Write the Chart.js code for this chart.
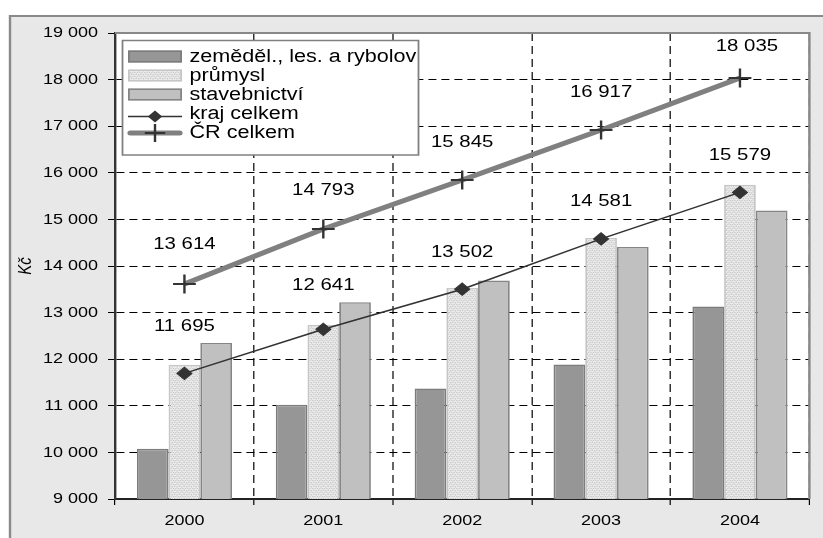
<!DOCTYPE html>
<html><head><meta charset="utf-8">
<script src="https://cdn.jsdelivr.net/npm/chart.js@4.4.1/dist/chart.umd.min.js"></script>
<style>html,body{margin:0;padding:0;background:#fff;}#wrap{width:823px;height:538px;position:relative;overflow:hidden;}canvas{display:block;}</style>
</head><body><div id="wrap"><canvas id="c" width="686" height="538" style="width:823px;height:538px"></canvas></div>
<script>
const years = ['2000', '2001', '2002', '2003', '2004'];
const zemedelstvi = [10080, 11020, 11370, 11885, 13130];
const prumysl = [11880, 12740, 13530, 14600, 15745];
const stavebnictvi = [12350, 13220, 13690, 14410, 15190];
const krajCelkem = [11695, 12641, 13502, 14581, 15579];
const crCelkem = [13614, 14793, 15845, 16917, 18035];
const seriesNames = ['zeměděl., les. a rybolov', 'průmysl', 'stavebnictví', 'kraj celkem', 'ČR celkem'];
const yMin = 9000, yMax = 19000, yStep = 1000;
const yTitle = 'Kč';

// horizontal stretch of the whole drawing (reference is a widened Excel chart)
const SX = 1.2;
const X = v => v / SX; // convert target pixel x to drawing units

const FONT = "'Liberation Sans', Arial, sans-serif";
const fmt = v => String(Math.round(v)).replace(/\B(?=(\d{3})+(?!\d))/g, ' ');

// pattern for průmysl
const pc = document.createElement('canvas'); pc.width = 4; pc.height = 4;
const pctx = pc.getContext('2d');
pctx.fillStyle = '#ececec'; pctx.fillRect(0, 0, 4, 4);
pctx.fillStyle = '#c4c4c4';
pctx.fillRect(0, 0, 1, 1); pctx.fillRect(2, 0, 1, 1); pctx.fillRect(1, 2, 1, 1); pctx.fillRect(3, 2, 1, 1);
pctx.fillStyle = '#d8d8d8';
pctx.fillRect(1, 1, 1, 1); pctx.fillRect(3, 3, 1, 1);
const patt = pctx.createPattern(pc, 'repeat');

const styles = {
  agr: { bg: '#969696', border: '#7c7c7c' },
  pr: { bg: patt, border: '#c6c6c6' },
  st: { bg: '#c0c0c0', border: '#858585' }
};

// label offsets (dx in target px, dy above point) per line dataset
const labelOffsets = {
  3: [[0, 47], [0, 44], [0, 37], [0, 37.5], [0, 37]],
  4: [[0, 39.5], [0, 39], [0, 37.5], [0, 37.5], [7, 32]]
};

const framePlugin = {
  id: 'frame',
  beforeDraw(chart) {
    const { ctx, chartArea: a, width: W, height: H } = chart;
    ctx.save();
    ctx.fillStyle = '#fff'; ctx.fillRect(0, 0, W, H);
    ctx.fillStyle = '#e8e8e8'; ctx.fillRect(X(9), 15, W, H);
    ctx.strokeStyle = '#8a8a8a'; ctx.lineWidth = 2;
    ctx.beginPath(); ctx.moveTo(X(10), H); ctx.lineTo(X(10), 16); ctx.lineTo(W + 5, 16); ctx.stroke();
    ctx.fillStyle = '#fff'; ctx.fillRect(a.left, a.top, a.right - a.left, a.bottom - a.top);
    ctx.restore();
  },
  beforeDatasetsDraw(chart) {
    const { ctx, chartArea: a } = chart;
    ctx.save();
    ctx.strokeStyle = '#888'; ctx.lineWidth = 2;
    ctx.beginPath(); ctx.moveTo(a.left, a.top); ctx.lineTo(a.right, a.top); ctx.lineTo(a.right, a.bottom); ctx.stroke();
    ctx.restore();
  },
  afterDraw(chart) {
    const { ctx } = chart;
    ctx.save();
    // data labels
    ctx.font = '17px ' + FONT;
    ctx.fillStyle = '#000';
    ctx.textAlign = 'center';
    ctx.textBaseline = 'middle';
    [3, 4].forEach(di => {
      const meta = chart.getDatasetMeta(di);
      meta.data.forEach((pt, i) => {
        const off = labelOffsets[di][i];
        ctx.fillText(fmt(chart.data.datasets[di].data[i]), pt.x + X(off[0]), pt.y - off[1]);
      });
    });
    // y title
    ctx.save();
    ctx.translate(X(26), 266);
    ctx.rotate(-Math.PI / 2);
    ctx.font = 'italic 15px ' + FONT;
    ctx.fillText(yTitle, 0, 0);
    ctx.restore();
    // legend
    const lx = X(122.5), ly = 40.5, lw = X(296), lh = 114.5;
    ctx.fillStyle = '#fff'; ctx.fillRect(lx, ly, lw, lh);
    ctx.strokeStyle = '#808080'; ctx.lineWidth = 1.5; ctx.strokeRect(lx, ly, lw, lh);
    const rows = [56.5, 75.5, 94.5, 113.5, 132.5];
    const sx = X(128), sw = X(54);
    const sst = [styles.agr, styles.pr, styles.st];
    for (let i = 0; i < 3; i++) {
      ctx.fillStyle = sst[i].bg; ctx.fillRect(sx, rows[i] - 6, sw, 12);
      ctx.strokeStyle = sst[i].border; ctx.lineWidth = 1.5; ctx.strokeRect(sx + 0.75, rows[i] - 5.25, sw - 1.5, 10.5);
    }
    const mx = X(155);
    // kraj line
    ctx.strokeStyle = '#333'; ctx.lineWidth = 1.5;
    ctx.beginPath(); ctx.moveTo(sx, 116.5); ctx.lineTo(sx + sw, 116.5); ctx.stroke();
    ctx.fillStyle = '#333';
    ctx.beginPath(); ctx.moveTo(mx, 110.5); ctx.lineTo(mx + 6, 116.5); ctx.lineTo(mx, 122.5); ctx.lineTo(mx - 6, 116.5); ctx.closePath(); ctx.fill();
    // CR line
    ctx.strokeStyle = '#808080'; ctx.lineWidth = 5; ctx.lineCap = 'round';
    ctx.beginPath(); ctx.moveTo(sx + 2, 133); ctx.lineTo(sx + sw - 2, 133); ctx.stroke();
    ctx.lineCap = 'butt';
    ctx.strokeStyle = '#333'; ctx.lineWidth = 2;
    ctx.beginPath(); ctx.moveTo(mx - 8.5, 133); ctx.lineTo(mx + 8.5, 133); ctx.moveTo(mx, 124); ctx.lineTo(mx, 142); ctx.stroke();
    ctx.fillStyle = '#000';
    ctx.font = '18px ' + FONT;
    ctx.textAlign = 'left';
    ctx.textBaseline = 'middle';
    seriesNames.forEach((n, i) => ctx.fillText(n, X(189.5), rows[i] + 0.5));
    ctx.restore();
  }
};

const chart = new Chart(document.getElementById('c'), {
  type: 'bar',
  data: {
    labels: years,
    datasets: [
      { label: seriesNames[0], data: zemedelstvi, backgroundColor: styles.agr.bg, borderColor: styles.agr.border, borderWidth: 1.5, order: 2 },
      { label: seriesNames[1], data: prumysl, backgroundColor: styles.pr.bg, borderColor: styles.pr.border, borderWidth: 1.5, order: 2 },
      { label: seriesNames[2], data: stavebnictvi, backgroundColor: styles.st.bg, borderColor: styles.st.border, borderWidth: 1.5, order: 2 },
      { type: 'line', label: seriesNames[3], data: krajCelkem, borderColor: '#333', borderWidth: 1.5, pointStyle: 'rectRot', pointRadius: 6.2, pointBackgroundColor: '#333', pointBorderColor: '#333', pointBorderWidth: 1, order: 1, tension: 0 },
      { type: 'line', label: seriesNames[4], data: crCelkem, borderColor: '#808080', borderWidth: 5, pointStyle: 'cross', pointRadius: 9.5, pointBorderColor: '#333', pointBorderWidth: 2, pointBackgroundColor: '#333', order: 0, tension: 0 }
    ]
  },
  options: {
    responsive: false,
    animation: false,
    devicePixelRatio: 1,
    layout: { padding: { top: 33, right: 686 - X(813), left: 0, bottom: 0 } },
    datasets: { bar: { categoryPercentage: 0.685, barPercentage: 1 } },
    plugins: { legend: { display: false }, tooltip: { enabled: false }, title: { display: false } },
    scales: {
      x: {
        offset: true,
        grid: { offset: true, color: '#000', lineWidth: 1, tickLength: 6, tickColor: '#000', tickBorderDash: [] },
        border: { display: true, color: '#222', width: 2, dash: [8, 5] },
        ticks: { autoSkip: false, maxRotation: 0, padding: 7, color: '#000', font: { family: FONT, size: 15 } },
        afterFit(s) { s.height = 39; }
      },
      y: {
        min: yMin, max: yMax,
        grid: { color: '#000', lineWidth: 1, tickLength: X(7), tickColor: '#000', tickBorderDash: [] },
        border: { display: true, color: '#333', width: 2, dash: [X(8), X(5)] },
        ticks: { stepSize: yStep, padding: X(115) - X(7) - X(98), color: '#000', font: { family: FONT, size: 15 }, callback: v => fmt(v) },
        afterFit(s) { s.width = X(115); }
      }
    }
  },
  plugins: [framePlugin]
});

// widen the drawing with a vector transform so strokes and text stay crisp
const cv = chart.canvas;
cv.width = 823;
cv.style.width = '823px';
cv.style.height = '538px';
chart.ctx.setTransform(SX, 0, 0, 1, 0, 0);
chart.draw();
</script>
</body></html>
